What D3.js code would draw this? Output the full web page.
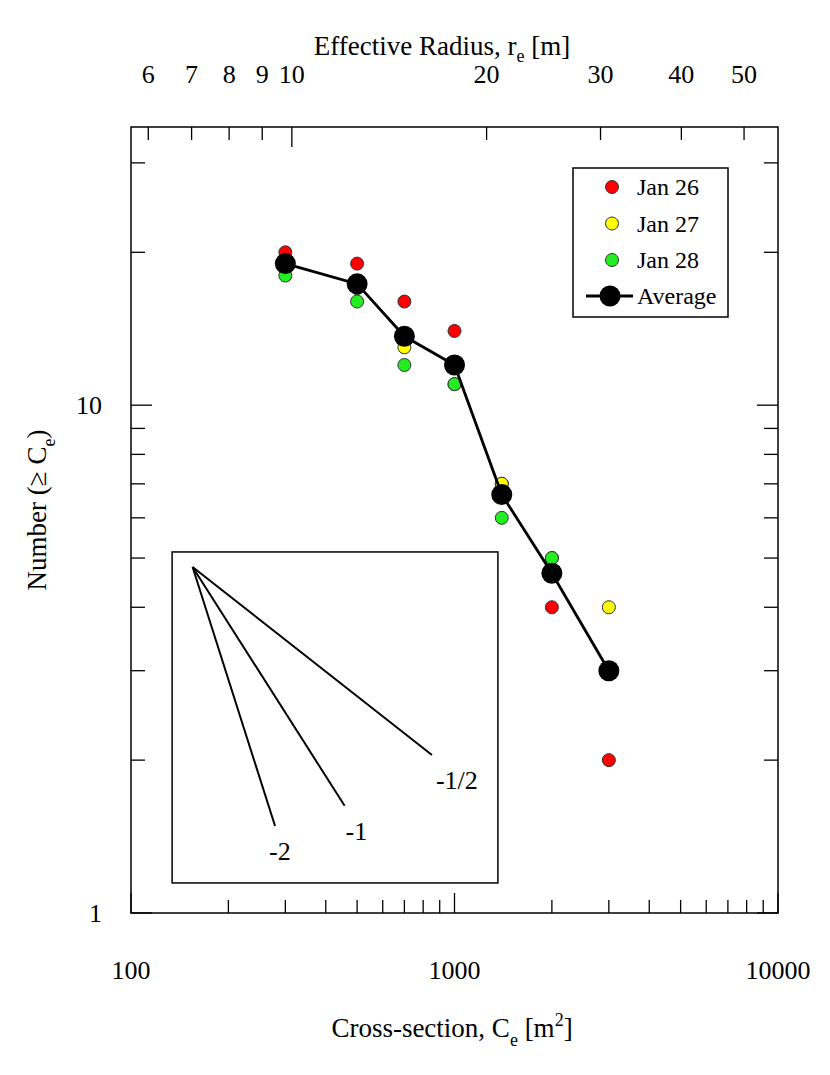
<!DOCTYPE html>
<html lang="en">
<head>
<meta charset="UTF-8">
<title>Cumulative number vs cross-section</title>
<script src="https://d3js.org/d3.v7.min.js"></script>
<style>
body { margin: 0; background: #fff; }
svg text { font-family: "Liberation Serif", "Times New Roman", serif; fill: #000; }
</style>
</head>
<body>
<div id="container"></div>
<script>
// data
const crossSection = [300, 500, 700, 1000, 1400, 2000, 3000];
const jan26 = [20, 19, 16, 14, 7, 4, 2];
const jan27 = [19, 17, 13, 11, 7, 5, 4];
const jan28 = [18, 16, 12, 11, 6, 5, 3];
const average = crossSection.map((c, i) => (jan26[i] + jan27[i] + jan28[i]) / 3);

const seriesNames = ["Jan 26", "Jan 27", "Jan 28"];
const seriesColors = ["#ff0000", "#ffff00", "#22ee22"];
const seriesValues = [jan26, jan27, jan28];

const xTickLabels = [100, 1000, 10000];
const yTickLabels = [1, 10];
const radiusTicks = [6, 7, 8, 9, 10, 20, 30, 40, 50];
const radiusLabels = [6, 7, 8, 9, 10, 20, 30, 40, 50];

// inset guide lines: slope and length in decades of C
const slopes = [-2, -1, -0.5];
const slopeLabels = ["-2", "-1", "-1/2"];
const slopeSpan = [0.255, 0.47, 0.74];
const slopeOrigin = { c: 155, n: 4.8 };

const width = 830, height = 1075;
const pL = 131, pR = 778, pT = 127, pB = 913;
const tickFont = 26, titleFont = 27, subFont = 18;

const svg = d3.select("#container").append("svg")
  .attr("width", width)
  .attr("height", height);

const x = d3.scaleLog().domain([100, 10000]).range([pL, pR]);
const y = d3.scaleLog().domain([1, 35.3]).range([pB, pT]);

// minor/major tick lists
const xMinor = [], yMinor = [];
for (const d of [100, 1000]) for (let k = 2; k <= 9; k++) xMinor.push(d * k);
for (const d of [1, 10]) for (let k = 2; k <= 9; k++) if (d * k <= 35) yMinor.push(d * k);

const axes = svg.append("g").attr("stroke", "#000").attr("stroke-width", 1.3);

// bottom ticks
axes.append("g").selectAll("line").data(xTickLabels.concat(xMinor)).join("line")
  .attr("x1", d => x(d)).attr("x2", d => x(d))
  .attr("y1", pB)
  .attr("y2", d => pB - (xTickLabels.includes(d) ? 20 : 13));

// left & right ticks
for (const side of [pL, pR]) {
  const dir = side === pL ? 1 : -1;
  axes.append("g").selectAll("line").data(yTickLabels.concat(yMinor)).join("line")
    .attr("x1", side)
    .attr("x2", d => side + dir * (yTickLabels.includes(d) ? 21 : 14))
    .attr("y1", d => y(d)).attr("y2", d => y(d));
}

// top axis: effective radius, C = pi r^2
axes.append("g").selectAll("line").data(radiusTicks).join("line")
  .attr("x1", d => x(Math.PI * d * d)).attr("x2", d => x(Math.PI * d * d))
  .attr("y1", pT)
  .attr("y2", d => pT + (d === 10 ? 20 : 13));

svg.append("rect")
  .attr("x", pL).attr("y", pT)
  .attr("width", pR - pL).attr("height", pB - pT)
  .attr("fill", "none").attr("stroke", "#000").attr("stroke-width", 1.5);

// tick labels
svg.append("g").selectAll("text").data(xTickLabels).join("text")
  .attr("x", d => x(d)).attr("y", pB + 66)
  .attr("text-anchor", "middle").attr("font-size", tickFont)
  .text(d => d);

svg.append("g").selectAll("text").data(yTickLabels).join("text")
  .attr("x", pL - 29).attr("y", d => y(d) + 9)
  .attr("text-anchor", "end").attr("font-size", tickFont)
  .text(d => d);

svg.append("g").selectAll("text").data(radiusLabels).join("text")
  .attr("x", d => x(Math.PI * d * d)).attr("y", pT - 44)
  .attr("text-anchor", "middle").attr("font-size", tickFont)
  .text(d => d);

// axis titles
const xt = svg.append("text")
  .attr("x", 452).attr("y", 1037)
  .attr("text-anchor", "middle").attr("font-size", titleFont);
xt.append("tspan").text("Cross-section, C");
xt.append("tspan").attr("font-size", subFont).attr("dy", 9).text("e");
xt.append("tspan").attr("dy", -9).text(" [m");
xt.append("tspan").attr("font-size", subFont).attr("dy", -11).text("2");
xt.append("tspan").attr("dy", 11).text("]");

const tt = svg.append("text")
  .attr("x", 442).attr("y", 55)
  .attr("text-anchor", "middle").attr("font-size", titleFont);
tt.append("tspan").text("Effective Radius, r");
tt.append("tspan").attr("font-size", subFont).attr("dy", 7).text("e");
tt.append("tspan").attr("dy", -7).text(" [m]");

const yt = svg.append("text")
  .attr("transform", "translate(46,510) rotate(-90)")
  .attr("text-anchor", "middle").attr("font-size", titleFont);
yt.append("tspan").text("Number (\u2265 C");
yt.append("tspan").attr("font-size", subFont).attr("dy", 9).text("e");
yt.append("tspan").attr("dy", -9).text(")");

// inset with slope guides
svg.append("rect")
  .attr("x", x(134)).attr("y", y(5.14))
  .attr("width", x(1362) - x(134)).attr("height", y(1.146) - y(5.14))
  .attr("fill", "none").attr("stroke", "#000").attr("stroke-width", 1.5);

const guides = slopes.map((s, i) => {
  const c1 = slopeOrigin.c * Math.pow(10, slopeSpan[i]);
  const n1 = slopeOrigin.n * Math.pow(10, s * slopeSpan[i]);
  return { c1, n1, label: slopeLabels[i] };
});

svg.append("g").selectAll("line").data(guides).join("line")
  .attr("x1", x(slopeOrigin.c)).attr("y1", y(slopeOrigin.n))
  .attr("x2", d => x(d.c1)).attr("y2", d => y(d.n1))
  .attr("stroke", "#000").attr("stroke-width", 2);

svg.append("g").selectAll("text").data(guides).join("text")
  .attr("x", (d, i) => x(d.c1) + [-6, 1, 4][i])
  .attr("y", d => y(d.n1) + 34)
  .attr("font-size", tickFont)
  .text(d => d.label);

// scatter series
seriesValues.forEach((vals, si) => {
  svg.append("g").selectAll("circle").data(vals).join("circle")
    .attr("cx", (d, i) => x(crossSection[i]))
    .attr("cy", d => y(d))
    .attr("r", 6.5)
    .attr("fill", seriesColors[si])
    .attr("stroke", "#333").attr("stroke-width", 1);
});

// average line
const line = d3.line().x((d, i) => x(crossSection[i])).y(d => y(d));
svg.append("path").datum(average)
  .attr("d", line).attr("fill", "none")
  .attr("stroke", "#000").attr("stroke-width", 2.8);

svg.append("g").selectAll("circle").data(average).join("circle")
  .attr("cx", (d, i) => x(crossSection[i]))
  .attr("cy", d => y(d))
  .attr("r", 10.5).attr("fill", "#000");

// legend
const lg = svg.append("g");
lg.append("rect")
  .attr("x", 573).attr("y", 168).attr("width", 155).attr("height", 149)
  .attr("fill", "#fff").attr("stroke", "#000").attr("stroke-width", 1.5);
seriesNames.forEach((name, i) => {
  const yy = 187 + i * 36.5;
  lg.append("circle").attr("cx", 612).attr("cy", yy).attr("r", 6.5)
    .attr("fill", seriesColors[i]).attr("stroke", "#333");
  lg.append("text").attr("x", 637).attr("y", yy + 8).attr("font-size", 24).text(name);
});
lg.append("line").attr("x1", 586).attr("x2", 633).attr("y1", 296).attr("y2", 296)
  .attr("stroke", "#000").attr("stroke-width", 2.8);
lg.append("circle").attr("cx", 610).attr("cy", 296).attr("r", 10.5).attr("fill", "#000");
lg.append("text").attr("x", 637).attr("y", 304).attr("font-size", 24).text("Average");
</script>
</body>
</html>
